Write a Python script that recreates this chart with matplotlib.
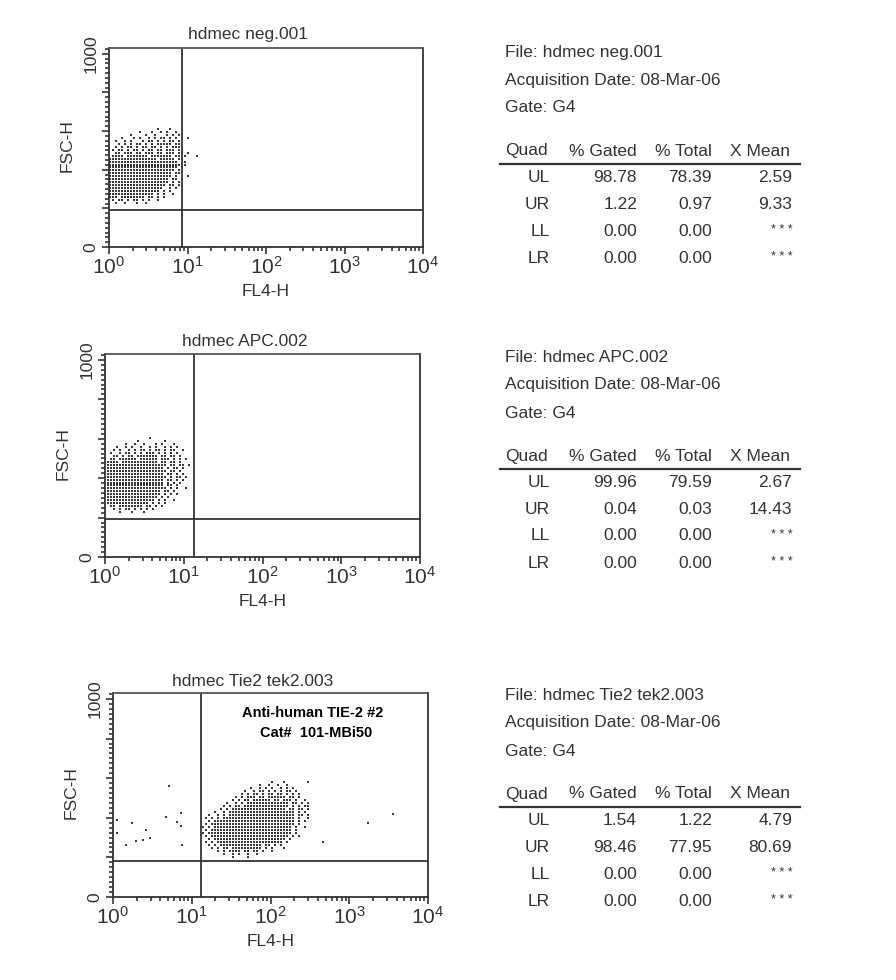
import matplotlib
matplotlib.use("Agg")

import numpy as np
import matplotlib.pyplot as plt
from matplotlib.ticker import FixedLocator, MultipleLocator, LogLocator, FuncFormatter, NullFormatter

plt.rcParams["font.family"] = ["Liberation Sans", "DejaVu Sans"]
plt.rcParams["mathtext.fontset"] = "custom"
plt.rcParams["mathtext.rm"] = "Liberation Sans"

W, H = 896, 980
INK = "#333333"
DOT = "#3a3a3a"

# ---- data ----
titles = ["hdmec neg.001", "hdmec APC.002", "hdmec Tie2 tek2.003"]
acq_date = "08-Mar-06"
gate = "G4"
quads = ["UL", "UR", "LL", "LR"]
pct_gated = [[98.78, 1.22, 0.00, 0.00],
             [99.96, 0.04, 0.00, 0.00],
             [1.54, 98.46, 0.00, 0.00]]
pct_total = [[78.39, 0.97, 0.00, 0.00],
             [79.59, 0.03, 0.00, 0.00],
             [1.22, 77.95, 0.00, 0.00]]
x_mean = [[2.59, 9.33, None, None],
          [2.67, 14.43, None, None],
          [4.79, 80.69, None, None]]

# quadrant markers (FL4-H, FSC-H)
quad_x = [8.5, 13.5, 13.1]
quad_y = [191, 193, 182]

# dot maps, one char per acquisition channel cell ('#' = event)
cloud_neg = [
    "                #   #         ",
    "          #   #  # #  #       ",
    "       #    #  #   # # #      ",
    "    #   # #  # # ## # #   #   ",
    "  #  # #   # ## # # ## #      ",
    "   # # # ## # # ##### ##      ",
    "  # # ## # ## ## # # ###      ",
    " # ## # ## # ## ## ### #      ",
    "  ## ### ## ### ## ### ## #   ",
    " #### ####### ####### ## #   #",
    "################ ##### ##     ",
    "#######################  #    ",
    "######################## #    ",
    "####################### #     ",
    "###################### #      ",
    "##################### ##      ",
    "##################### #   #   ",
    "#################### ##       ",
    "#################### # #      ",
    "################### ## #      ",
    "##################  # #       ",
    "################# # #         ",
    "############### # #  #        ",
    "### ######## ## # #           ",
    " # ## # ## # #  #             ",
    "  #  #   #  #                 ",
]

cloud_apc = [
    "              #             ",
    "          #        #        ",
    "      #  #  #   # #   #     ",
    "   #  # #  #  # #  # # #    ",
    "  # #  # # ## # ## # ##  #  ",
    " #  # ## # # ### # # # #    ",
    "  ## # ## ####### ## ## #   ",
    " ## ###### ###### ### # # # ",
    "#### ############ ## ## #   ",
    "#################### ## ## #",
    "################### # ## #  ",
    "#################### ## #   ",
    "################### ## # #  ",
    "#################### # ## # ",
    "################### ## # #  ",
    "################### # # #   ",
    "################### ## #    ",
    "#################### # #  # ",
    "################## ## #     ",
    "################## # # #    ",
    "################# # #       ",
    "################ # #  #     ",
    "############## # # #        ",
    " ## ######## ## # #         ",
    "  # # ## # # # #            ",
    "    #   #   #               ",
]

cloud_tie2 = [
    "                       #   #       #  ",
    "                   #  #  #  #         ",
    "                #  # # #  # # #       ",
    "              #  # ## # # # ## #      ",
    "             # # ## # ## ## # # #     ",
    "           # # ### ## ###### ## #     ",
    "          # # ## ###### ## ### #  #   ",
    "        #  # # ############## ## # #  ",
    "       # # ## ############### # # ##  ",
    "      # # ################## ## ## #  ",
    "    #  # ###################### # #   ",
    "  #  # # ###################### ## #  ",
    " # # # ######################## #  #  ",
    "  # ########################### # #   ",
    " # ############################ #     ",
    "# # ########################## #  #   ",
    " # ########################### #      ",
    "# ############################ #      ",
    " # ########################## # #     ",
    "  # ######################## #        ",
    " # # ###################### #         ",
    "  # # ############## ## # #           ",
    "   # # ## ########## # #   #          ",
    "     # # #### ## ## #  #              ",
    "       #  # #  #  #                   ",
    "          #    #                      ",
]

# stray events outside the main cloud, Tie2 sample
tie2_stray_x = [5.1, 1.12, 1.73, 4.7, 6.5, 7.2, 7.3, 2.6, 2.95, 1.96, 2.4, 1.45, 7.5, 1.12, 460, 1750, 3630]
tie2_stray_y = [560, 389, 374, 404, 379, 424, 358, 338, 298, 283, 288, 263, 263, 323, 279, 372, 418]

clouds = [cloud_neg, cloud_apc, cloud_tie2]

# ---- layout (pixels) ----
boxes = [(109, 48, 423, 247), (105, 354, 420, 557), (113, 693, 428, 897)]
title_pos = [(248, 35), (245, 342), (253, 681)]
table_top = [53, 358, 696]
# where each dot map starts on the axes: log10(FL4) of first column, step; FSC of first row, step
grid_log0 = [0.019, 0.032, 1.137]
grid_dlog = [0.0382, 0.0381, 0.0381]
grid_y0 = [613, 606, 583]
grid_dy = [15.5, 15.2, 15.15]


def fx(x):
    return x / W


def fy(y):
    return 1 - y / H


def map_points(rows, log0, dlog, y0, dy):
    xs, ys = [], []
    for r, line in enumerate(rows):
        for c, ch in enumerate(line):
            if ch == "#":
                xs.append(10 ** (log0 + c * dlog))
                ys.append(y0 - r * dy)
    return np.array(xs), np.array(ys)


def decade(v, pos):
    return r"$\mathregular{10^{%d}}$" % round(np.log10(v))


def y_lab(v, pos):
    return "%d" % v if v in (0, 1000) else ""


fig = plt.figure(figsize=(W / 100, H / 100), dpi=100)
fig.patch.set_facecolor("white")

for i in range(3):
    l, t, r, b = boxes[i]
    ax = fig.add_axes([fx(l), fy(b), (r - l) / W, (b - t) / H])
    ax.set_xscale("log")
    ax.set_xlim(1, 1e4)
    ax.set_ylim(0, 1030)

    xs, ys = map_points(clouds[i], grid_log0[i], grid_dlog[i], grid_y0[i], grid_dy[i])
    ax.plot(xs, ys, ls="none", marker="s", ms=1.9, mew=0, color=DOT)
    if i == 2:
        ax.plot(tie2_stray_x, tie2_stray_y, ls="none", marker="s", ms=1.9, mew=0, color=DOT)

    ax.axvline(quad_x[i], color=INK, lw=1.3)
    ax.axhline(quad_y[i], color=INK, lw=1.3)

    for s in ax.spines.values():
        s.set_color(INK)
        s.set_linewidth(1.3)
    ax.spines["top"].set_color("#555555")

    ax.yaxis.set_major_locator(FixedLocator([0, 200, 400, 600, 800, 1000]))
    ax.yaxis.set_minor_locator(MultipleLocator(25))
    ax.yaxis.set_major_formatter(FuncFormatter(y_lab))
    ax.xaxis.set_major_locator(LogLocator(base=10, numticks=10))
    ax.xaxis.set_minor_locator(LogLocator(base=10, subs=np.arange(2, 10), numticks=10))
    ax.xaxis.set_major_formatter(FuncFormatter(decade))
    ax.xaxis.set_minor_formatter(NullFormatter())
    ax.tick_params(which="both", direction="out", color=INK, width=1.2)
    ax.tick_params(which="major", length=5)
    ax.tick_params(which="minor", length=3.2)
    ax.tick_params(axis="x", labelsize=15, labelcolor=INK, pad=1.5)
    ax.tick_params(axis="y", labelsize=12.5, labelcolor=INK, pad=2.5, labelrotation=90)
    for lab in ax.get_yticklabels():
        lab.set_va("center")

    # titles and axis labels
    fig.text(fx(title_pos[i][0]), fy(title_pos[i][1]), titles[i], ha="center", va="center",
             fontsize=12.5, color=INK)
    fig.text(fx((l + r) / 2), fy(b + 44), "FL4-H", ha="center", va="center", fontsize=12.5, color=INK)
    fig.text(fx(l - 42), fy((t + b) / 2 - 2), "FSC-H", ha="center", va="center", rotation=90,
             fontsize=12.5, color=INK)

    # stats table
    y0 = table_top[i]
    fig.text(fx(505), fy(y0), "File: " + titles[i], ha="left", va="center", fontsize=12.5, color=INK)
    fig.text(fx(505), fy(y0 + 27), "Acquisition Date: " + acq_date, ha="left", va="center",
             fontsize=12.5, color=INK)
    fig.text(fx(505), fy(y0 + 55), "Gate: " + gate, ha="left", va="center", fontsize=12.5, color=INK)
    hy = y0 + 98
    fig.text(fx(505), fy(hy), "Quad", ha="left", va="center", fontsize=12.5, color=INK)
    fig.text(fx(637), fy(hy), "% Gated", ha="right", va="center", fontsize=12.5, color=INK)
    fig.text(fx(712), fy(hy), "% Total", ha="right", va="center", fontsize=12.5, color=INK)
    fig.text(fx(790), fy(hy), "X Mean", ha="right", va="center", fontsize=12.5, color=INK)
    fig.add_artist(plt.Line2D([fx(500), fx(800)], [fy(y0 + 111), fy(y0 + 111)], color=INK, lw=1.6))
    for k in range(4):
        ry = y0 + 124 + k * 27
        fig.text(fx(550), fy(ry), quads[k], ha="right", va="center", fontsize=12.5, color=INK)
        fig.text(fx(637), fy(ry), "%.2f" % pct_gated[i][k], ha="right", va="center", fontsize=12.5, color=INK)
        fig.text(fx(712), fy(ry), "%.2f" % pct_total[i][k], ha="right", va="center", fontsize=12.5, color=INK)
        xm = x_mean[i][k]
        if xm is None:
            fig.text(fx(793), fy(ry - 1), "* * *", ha="right", va="center", fontsize=9, color=INK)
        else:
            fig.text(fx(792), fy(ry), "%.2f" % xm, ha="right", va="center", fontsize=12.5, color=INK)

# antibody note inside the Tie2 panel
fig.text(fx(313), fy(713), "Anti-human TIE-2 #2", ha="center", va="center", fontsize=10.5,
         fontweight="bold", color="black")
fig.text(fx(316), fy(733), "Cat#  101-MBi50", ha="center", va="center", fontsize=10.5,
         fontweight="bold", color="black")

fig.savefig("out.png", dpi=100, facecolor="white")
